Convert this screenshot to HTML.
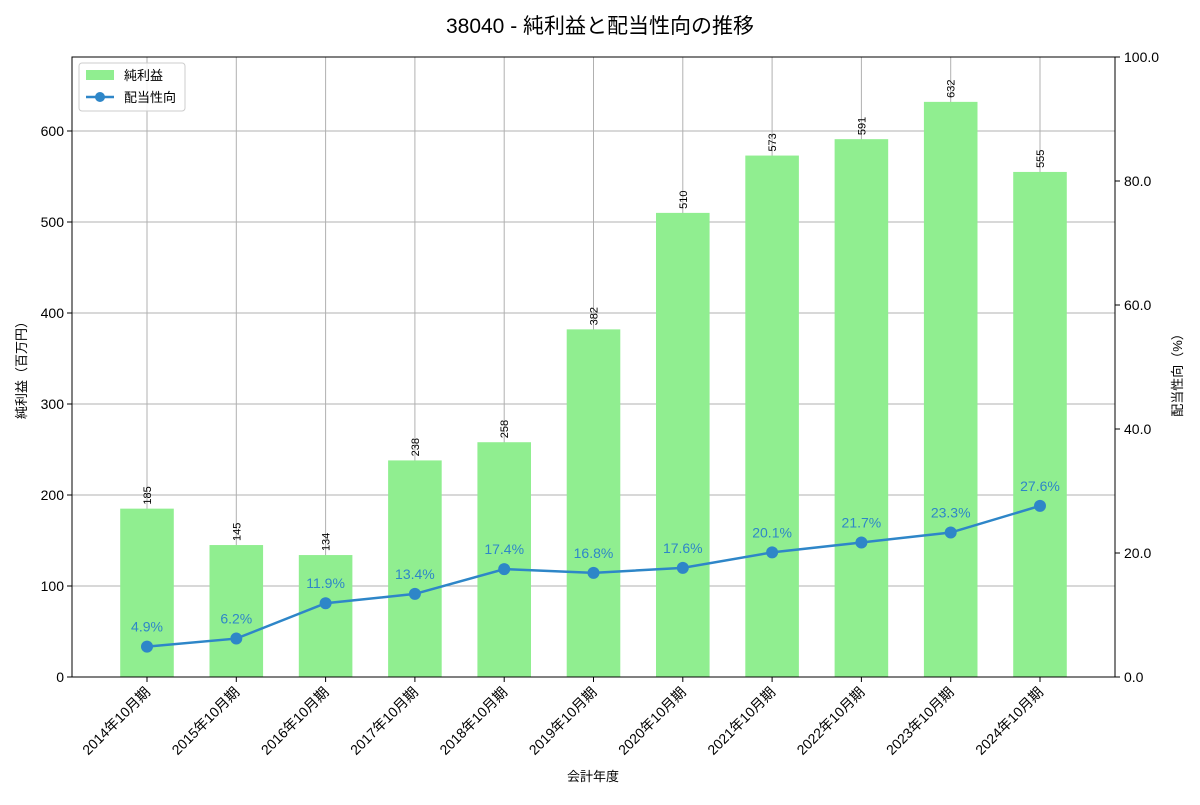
<!DOCTYPE html>
<html><head><meta charset="utf-8">
<style>
body{margin:0;background:#fff;}
svg{font-family:"Liberation Sans","Noto Sans CJK JP",sans-serif;}
</style></head>
<body>
<svg id="chart" width="1200" height="800" viewBox="0 0 1200 800" xmlns="http://www.w3.org/2000/svg">
<text x="600" y="33" text-anchor="middle" font-size="21" fill="#000">38040 - 純利益と配当性向の推移</text>
<g id="grid"></g><g id="bars"></g><g id="line"></g><g id="axes"></g>
</svg>
<script>
const categories=["2014年10月期","2015年10月期","2016年10月期","2017年10月期","2018年10月期","2019年10月期","2020年10月期","2021年10月期","2022年10月期","2023年10月期","2024年10月期"];
const netIncome=[185,145,134,238,258,382,510,573,591,632,555];
const payoutRatio=[4.9,6.2,11.9,13.4,17.4,16.8,17.6,20.1,21.7,23.3,27.6];
const leftTicks=[0,100,200,300,400,500,600];
const rightTicks=[0,20,40,60,80,100];
const NS="http://www.w3.org/2000/svg";
const L=72,R=1115,T=57,B=677,LMAX=681.3,RMAX=100;
const xs=i=>147+(R-L-2*75)/(categories.length-1)*i;
const yl=v=>B-(B-T)*v/LMAX;
const yr=v=>B-(B-T)*v/RMAX;
function mk(tag,attrs,parent,text){const e=document.createElementNS(NS,tag);for(const k in attrs)e.setAttribute(k,attrs[k]);if(text!==undefined)e.textContent=text;parent.appendChild(e);return e;}
const grid=document.getElementById('grid'),bars=document.getElementById('bars'),line=document.getElementById('line'),axes=document.getElementById('axes');
const bw=(xs(1)-xs(0))*0.6;
categories.forEach((c,i)=>{
  const g=mk('line',{x1:xs(i),x2:xs(i),y1:T,y2:B,stroke:'#b0b0b0','stroke-width':1},grid);
  
  
});
leftTicks.forEach(v=>{
  const g=mk('line',{x1:L,x2:R,y1:yl(v),y2:yl(v),stroke:'#b0b0b0','stroke-width':1},grid);
  
  
});
netIncome.forEach((v,i)=>{
  const r=mk('rect',{x:xs(i)-bw/2,y:yl(v),width:bw,height:B-yl(v),fill:'#90ee90'},bars);
  
  
  const t=mk('text',{x:0,y:0,'font-size':11,transform:`translate(${xs(i)+4},${yl(v)-4}) rotate(-90)`},bars,String(v));
  
  
});
const pts=payoutRatio.map((v,i)=>xs(i)+','+yr(v)).join(' ');
const pl=mk('polyline',{points:pts,fill:'none',stroke:'#2e86c8','stroke-width':2.5},line);


payoutRatio.forEach((v,i)=>{
  const c=mk('circle',{cx:xs(i),cy:yr(v),r:6,fill:'#2e86c8'},line);
  
  
  const t=mk('text',{x:xs(i),y:yr(v)-15,'font-size':14,fill:'#2e86c8','text-anchor':'middle'},line,v.toFixed(1)+'%');
  
  
});
const fr=mk('rect',{x:L,y:T,width:R-L,height:B-T,fill:'none',stroke:'#000','stroke-width':1},axes);


leftTicks.forEach(v=>{
  mk('line',{x1:L-5,x2:L,y1:yl(v),y2:yl(v),stroke:'#000'},axes);
  const t=mk('text',{x:L-8,y:yl(v)+5,'font-size':14,'text-anchor':'end'},axes,String(v));
  
  
});
rightTicks.forEach(v=>{
  mk('line',{x1:R,x2:R+5,y1:yr(v),y2:yr(v),stroke:'#000'},axes);
  const t=mk('text',{x:R+9,y:yr(v)+5,'font-size':14},axes,v.toFixed(1));
  
  
});
categories.forEach((c,i)=>{
  mk('line',{x1:xs(i),x2:xs(i),y1:B,y2:B+5,stroke:'#000'},axes);
  const t=mk('text',{x:0,y:0,'font-size':14,'text-anchor':'end',transform:`translate(${xs(i)+4},${B+16}) rotate(-45)`},axes,c);
  
  
});
</script>
<svg style="position:absolute;left:0;top:0" width="1200" height="800">
<text x="593" y="781" text-anchor="middle" font-size="13" font-family="Liberation Sans, Noto Sans CJK JP, sans-serif">会計年度</text>
<text transform="translate(26,367) rotate(-90)" text-anchor="middle" font-size="13" font-family="Liberation Sans, Noto Sans CJK JP, sans-serif">純利益（百万円）</text>
<text transform="translate(1182,372) rotate(-90)" text-anchor="middle" font-size="13" font-family="Liberation Sans, Noto Sans CJK JP, sans-serif">配当性向（%）</text>
<g font-family="Liberation Sans, Noto Sans CJK JP, sans-serif" font-size="13">
<rect x="79" y="63" width="106" height="48" rx="3" fill="#fff" fill-opacity="0.85" stroke="#ccc"/>
<rect x="86" y="70" width="28" height="10" fill="#90ee90"/>
<text x="124" y="80">純利益</text>
<line x1="86" y1="97" x2="114" y2="97" stroke="#2e86c8" stroke-width="2.5"/>
<circle cx="100" cy="97" r="5" fill="#2e86c8"/>
<text x="124" y="102">配当性向</text>
</g>
</svg>
</body></html>
